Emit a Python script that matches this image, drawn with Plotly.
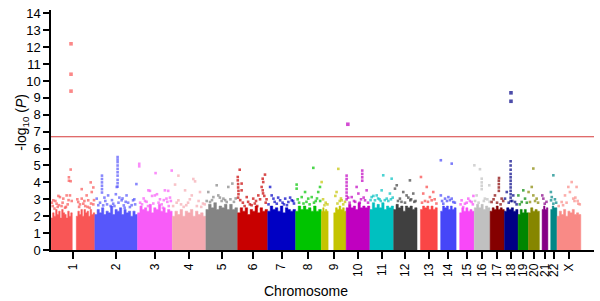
import plotly.graph_objects as go

CHROMS = ["1", "2", "3", "4", "5", "6", "7", "8", "9", "10", "11", "12",
          "13", "14", "15", "16", "17", "18", "19", "20", "21", "22", "X"]
CHROM_LEN = [249.25, 243.2, 198.0, 191.15, 180.9, 171.1, 159.1, 146.4, 141.2,
             135.5, 135.0, 133.85, 115.2, 107.35, 102.5, 90.35, 81.2, 78.1,
             59.1, 63.0, 48.1, 51.3, 155.3]
COLORS = ["#F95656", "#5757FB", "#F85CF8", "#F5A9B0", "#848484", "#C80000",
          "#0000C4", "#00C400", "#C4C400", "#C000C0", "#00C0C0", "#404040",
          "#FA4646", "#4646F8", "#F848F8", "#C0C0C0", "#850000", "#000085",
          "#008600", "#868600", "#860086", "#008686", "#F98A86"]
THRESHOLD = 6.7
Y_TICKS = list(range(0, 15))

# dense low-significance cloud: (start Mb, end Mb, envelope heights of -log10 P)
CLOUD_1 = [(0.5, 121, [1.9, 2.2, 2.0, 2.4, 2.1, 2.3, 1.9, 2.4, 2.2, 2.1, 1.9, 2.3, 2.0, 2.2]),
           (144, 249, [2.0, 2.3, 2.1, 2.4, 2.0, 2.4, 2.2, 2.3, 2.0, 2.4, 2.1, 2.2])]
CLOUD_2 = [(0.5, 242.5, [2.1, 2.4, 2.2, 2.5, 2.1, 2.3, 2.2, 2.6, 2.1, 2.4, 2.3, 2.5, 2.1, 2.4, 2.2, 2.3, 2.0, 2.3, 2.1])]
CLOUD_3 = [(0.5, 197.5, [2.2, 2.6, 2.4, 2.5, 2.3, 2.7, 2.2, 2.5, 2.4, 2.7, 2.3, 2.5, 2.2, 2.4, 2.3])]
CLOUD_4 = [(0.5, 190.5, [2.0, 2.3, 2.1, 2.4, 2.0, 2.3, 2.2, 2.4, 2.0, 2.3, 2.1, 2.2, 2.0])]
CLOUD_5 = [(0.5, 180.5, [2.4, 2.7, 2.5, 2.8, 2.4, 2.6, 2.5, 2.7, 2.4, 2.7, 2.4, 2.5])]
CLOUD_6 = [(0.5, 170.5, [2.2, 2.5, 2.3, 2.5, 2.1, 2.4, 2.3, 2.6, 2.2, 2.5, 2.3, 2.4])]
CLOUD_7 = [(0.5, 158.5, [2.3, 2.6, 2.4, 2.5, 2.3, 2.6, 2.2, 2.5, 2.4, 2.3, 2.4])]
CLOUD_8 = [(0.5, 146.0, [2.3, 2.6, 2.4, 2.6, 2.4, 2.5, 2.3, 2.6, 2.3, 2.4])]
CLOUD_9 = [(0.5, 39, [2.3, 2.5, 2.3, 2.4, 2.3]),
           (71, 141, [2.2, 2.5, 2.4, 2.6, 2.4, 2.5, 2.3])]
CLOUD_10 = [(0.5, 135, [2.5, 2.7, 2.5, 2.6, 2.4, 2.8, 2.5, 2.6, 2.5, 2.6])]
CLOUD_11 = [(0.5, 134.5, [2.4, 2.8, 2.5, 2.7, 2.5, 2.8, 2.4, 2.6, 2.5, 2.6])]
CLOUD_12 = [(0.5, 133.5, [2.4, 2.7, 2.5, 2.6, 2.3, 2.6, 2.5, 2.6, 2.4, 2.5])]
CLOUD_13 = [(19, 115, [2.4, 2.6, 2.5, 2.6, 2.4, 2.6, 2.4, 2.5])]
CLOUD_14 = [(19, 107, [2.3, 2.6, 2.5, 2.6, 2.4, 2.6, 2.4, 2.5])]
CLOUD_15 = [(20, 102, [2.2, 2.5, 2.3, 2.5, 2.3, 2.4, 2.3])]
CLOUD_16 = [(0.5, 90, [2.5, 2.7, 2.5, 2.7, 2.4, 2.6, 2.5])]
CLOUD_17 = [(0.5, 81, [2.3, 2.5, 2.4, 2.6, 2.4, 2.5, 2.4])]
CLOUD_18 = [(0.5, 78, [2.3, 2.5, 2.4, 2.5, 2.3, 2.4])]
CLOUD_19 = [(0.5, 59, [2.1, 2.4, 2.2, 2.4, 2.2])]
CLOUD_20 = [(0.5, 62.5, [2.2, 2.5, 2.3, 2.4, 2.3])]
CLOUD_21 = [(15, 48, [2.4, 2.6, 2.4, 2.5])]
CLOUD_22 = [(16, 51, [2.4, 2.6, 2.5, 2.5])]
CLOUD_X = [(1, 136, [2.0, 2.3, 2.1, 2.4, 2.0, 2.3, 2.2, 2.4, 2.1, 2.2, 2.1])]

# individual SNPs above the cloud: (position Mb, -log10 P)
HITS_1 = [(114, 12.2), (114, 10.4), (114, 9.4), (112, 4.76), (102, 4.3), (112, 4.07),
          (102, 4.1), (226, 4.0), (175, 3.6), (241, 3.7), (42, 3.2), (13, 2.94),
          (51, 3.13), (70, 3.04), (32, 2.74), (89, 3.23), (108, 3.23), (175, 3.04),
          (203, 3.23), (212, 2.94), (232, 3.43), (155, 2.84), (184, 2.74), (10, 2.6),
          (80, 2.5), (241, 2.7), (20, 2.45), (60, 2.6), (95, 2.7), (118, 2.9),
          (160, 2.55), (195, 2.6), (220, 2.5), (150, 3.0), (5, 2.8), (38, 2.55),
          (25, 2.9), (45, 2.65), (66, 2.8), (85, 2.55), (100, 2.95), (165, 2.7),
          (190, 2.9), (208, 2.55), (228, 2.75), (245, 2.95)]
HITS_2 = [(130, 5.5), (130, 5.35), (130, 5.2), (130, 5.0), (130, 4.8), (130, 4.6),
          (130, 4.4), (130, 4.15), (130, 3.95), (130, 3.75), (41, 4.4), (41, 4.2),
          (41, 4.0), (41, 3.8), (41, 3.6), (41, 3.4), (125, 3.73), (76, 3.23),
          (153, 2.94), (181, 3.23), (218, 2.94), (11, 3.04), (48, 2.64), (105, 2.74),
          (200, 2.54), (165, 2.64), (237, 3.9), (30, 2.8), (60, 2.9), (90, 2.6),
          (140, 3.1), (190, 2.8), (230, 2.7), (120, 3.3), (170, 2.5),
          (20, 2.65), (55, 3.1), (70, 2.7), (98, 2.95), (112, 2.6), (135, 2.8),
          (158, 3.05), (176, 2.85), (210, 2.65), (225, 3.0)]
HITS_3 = [(10, 5.1), (10, 4.95), (103, 4.55), (71, 3.5), (175, 3.5), (195, 4.7),
          (62, 3.53), (99, 3.23), (156, 3.53), (165, 3.04), (43, 2.9), (128, 3.0),
          (26, 2.7), (83, 3.2), (185, 3.1), (60, 2.6), (145, 2.5), (111, 3.3),
          (15, 2.8), (138, 2.7), (178, 2.6), (35, 3.05), (52, 2.85), (90, 2.75),
          (120, 2.8), (150, 2.95), (170, 2.85), (190, 2.9)]
HITS_4 = [(35, 4.4), (120, 4.2), (130, 4.06), (16, 3.87), (73, 3.53), (111, 3.23),
          (158, 3.43), (35, 2.94), (50, 2.7), (90, 2.8), (140, 2.6), (175, 2.75),
          (5, 2.6), (100, 3.0), (65, 2.55), (25, 2.8), (80, 2.65), (150, 2.9),
          (165, 2.55), (185, 2.7)]
HITS_5 = [(62, 3.83), (14, 3.43), (43, 3.13), (71, 3.23), (128, 3.73), (151, 3.93),
          (100, 3.04), (119, 2.84), (24, 2.84), (90, 2.9), (140, 3.0), (5, 2.9),
          (160, 2.85), (35, 2.95), (80, 3.1), (110, 2.95), (170, 3.05)]
HITS_6 = [(12, 4.75), (1, 4.32), (1, 4.12), (3, 3.9), (3, 3.7), (5, 3.5), (5, 3.3),
          (3, 3.1), (23, 3.93), (23, 3.53), (52, 3.13), (89, 3.04), (118, 3.23),
          (137, 3.73), (143, 4.22), (146, 4.02), (156, 4.46), (143, 3.53), (145, 3.35),
          (30, 2.8), (70, 2.7), (105, 2.9), (128, 3.0), (160, 2.8), (40, 2.6), (152, 3.2),
          (15, 2.95), (60, 2.85), (80, 2.65), (98, 2.75), (112, 2.6), (165, 3.0)]
HITS_7 = [(14, 3.73), (33, 3.04), (71, 2.94), (100, 3.04), (118, 2.84), (52, 2.74),
          (23, 3.23), (137, 2.94), (5, 2.7), (85, 2.8), (150, 2.75), (60, 3.1), (110, 2.65),
          (40, 2.85), (93, 2.7), (128, 3.1), (145, 2.9)]
HITS_8 = [(101, 4.86), (6, 3.87), (6, 3.63), (54, 3.43), (92, 3.13), (129, 3.43),
          (139, 3.73), (35, 3.13), (72, 3.04), (20, 2.8), (115, 2.9), (80, 2.7),
          (45, 2.75), (140, 2.9), (12, 3.0), (62, 2.85), (105, 2.8), (122, 3.05)]
HITS_9 = [(97, 4.8), (2, 4.02), (87, 3.43), (116, 2.94), (10, 3.0), (25, 2.8),
          (80, 3.2), (105, 2.9), (125, 2.7), (135, 2.85), (35, 2.7), (18, 2.65),
          (92, 2.75), (112, 3.05)]
HITS_10 = [(10, 7.44), (3, 4.4), (3, 4.2), (3, 4.0), (3, 3.8), (3, 3.6), (3, 3.4),
           (3, 3.2), (3, 3.0), (92, 4.7), (92, 4.5), (92, 4.3), (92, 4.1), (117, 3.53),
           (60, 3.73), (70, 3.34), (32, 3.13), (108, 2.94), (20, 2.8), (45, 2.9),
           (85, 3.0), (125, 2.8), (12, 3.1), (52, 2.85), (78, 2.8), (100, 3.1)]
HITS_11 = [(76, 4.42), (124, 4.22), (67, 3.53), (10, 3.13), (39, 3.23), (96, 3.04),
           (114, 3.34), (29, 2.94), (55, 3.0), (85, 2.95), (130, 3.1), (20, 3.2), (105, 2.9),
           (4, 2.95), (47, 3.05), (62, 2.9), (120, 3.0)]
HITS_12 = [(93, 4.12), (18, 3.83), (8, 3.63), (55, 3.43), (74, 3.23), (112, 3.34),
           (36, 3.04), (95, 2.94), (125, 2.9), (65, 2.8), (25, 2.9), (100, 3.0),
           (45, 2.85), (84, 3.1), (118, 2.85)]
HITS_13 = [(22, 4.32), (55, 3.73), (35, 3.34), (73, 3.13), (92, 3.43), (83, 2.94),
           (45, 2.9), (100, 3.0), (28, 2.8), (110, 2.75), (62, 2.85)]
HITS_14 = [(20, 5.31), (82, 5.11), (20, 3.23), (44, 3.04), (63, 3.13), (82, 3.04),
           (91, 2.84), (34, 2.74), (55, 2.9), (100, 2.8), (72, 2.95), (27, 2.9)]
HITS_15 = [(31, 2.94), (50, 2.74), (69, 3.04), (88, 2.84), (40, 2.54), (25, 2.7),
           (60, 2.8), (78, 2.9), (95, 2.7), (98, 3.2)]
HITS_16 = [(1, 5.01), (33, 4.78), (43, 4.22), (43, 4.0), (43, 3.8), (43, 3.6),
           (14, 3.23), (61, 3.04), (86, 3.83), (5, 2.9), (25, 2.8), (55, 2.9),
           (75, 3.0), (88, 2.85)]
HITS_17 = [(51, 4.26), (50, 4.1), (50, 3.9), (50, 3.7), (50, 3.5), (28, 3.23),
           (66, 3.04), (9, 2.84), (40, 2.8), (75, 2.9), (20, 3.0), (60, 2.7)]
HITS_18 = [(38, 9.3), (38, 8.8), (36, 5.25), (36, 5.0), (36, 4.75), (36, 4.5),
           (36, 4.3), (36, 4.1), (36, 3.9), (36, 3.7), (36, 3.5), (36, 3.3), (36, 3.1),
           (36, 2.9), (4, 3.04), (51, 3.23), (14, 3.43), (61, 2.84), (25, 2.8),
           (45, 2.9), (70, 2.7)]
HITS_19 = [(2, 3.23), (21, 2.84), (40, 3.04), (30, 3.53), (10, 2.7), (50, 2.8)]
HITS_20 = [(28, 4.82), (19, 3.73), (1, 3.43), (28, 3.23), (47, 3.04), (9, 2.84),
           (38, 2.9), (55, 2.8)]
HITS_21 = [(16, 3.23), (22, 3.04), (30, 2.74), (40, 2.85)]
HITS_22 = [(31, 4.42), (17, 3.43), (22, 3.13), (18, 2.94), (31, 2.74), (40, 3.0), (47, 2.8)]
HITS_X = [(84, 4.02), (65, 3.73), (112, 3.73), (46, 3.23), (93, 3.04), (122, 2.74),
          (27, 2.84), (74, 3.43), (10, 2.6), (100, 2.9), (130, 2.7), (55, 2.8),
          (35, 2.65), (105, 3.1), (118, 2.9)]

CLOUDS = [CLOUD_1, CLOUD_2, CLOUD_3, CLOUD_4, CLOUD_5, CLOUD_6, CLOUD_7, CLOUD_8,
          CLOUD_9, CLOUD_10, CLOUD_11, CLOUD_12, CLOUD_13, CLOUD_14, CLOUD_15,
          CLOUD_16, CLOUD_17, CLOUD_18, CLOUD_19, CLOUD_20, CLOUD_21, CLOUD_22, CLOUD_X]
HITS = [HITS_1, HITS_2, HITS_3, HITS_4, HITS_5, HITS_6, HITS_7, HITS_8, HITS_9,
        HITS_10, HITS_11, HITS_12, HITS_13, HITS_14, HITS_15, HITS_16, HITS_17,
        HITS_18, HITS_19, HITS_20, HITS_21, HITS_22, HITS_X]

FONT = "Liberation Sans, Arial, Helvetica, sans-serif"

offsets = []
acc = 0.0
for L in CHROM_LEN:
    offsets.append(acc)
    acc += L

fig = go.Figure()
tickvals = []
for i, c in enumerate(CHROMS):
    off = offsets[i]
    col = COLORS[i]
    segs = CLOUDS[i]
    lo = min(s for s, _, _ in segs)
    hi = max(e for _, e, _ in segs)
    tickvals.append(off + (lo + hi) / 2)
    for s, e, h in segs:
        n = len(h)
        xs = [off + s] + [off + s + (e - s) * k / n for k in range(n)] + [off + e, off + e]
        ys = [0] + list(h) + [h[-1], 0]
        fig.add_trace(go.Scatter(x=xs, y=ys, mode="lines", fill="toself",
                                 fillcolor=col, line=dict(width=0.5, color=col, shape="hv"),
                                 hoverinfo="skip", showlegend=False))
    pts = HITS[i]
    fig.add_trace(go.Scatter(
        x=[off + p for p, _ in pts], y=[v for _, v in pts], mode="markers",
        marker=dict(symbol="square", size=[3.6 if v > 6 else 2.6 for _, v in pts],
                    color=col, line=dict(width=0)),
        name="chr" + c, showlegend=False))

fig.add_shape(type="line", xref="paper", x0=0, x1=1, yref="y",
              y0=THRESHOLD, y1=THRESHOLD, line=dict(color="#D63A3A", width=1.2))

fig.update_layout(
    width=600, height=301,
    margin=dict(l=51, r=6, t=10, b=51),
    paper_bgcolor="white", plot_bgcolor="white",
    font=dict(family=FONT, color="black"),
    xaxis=dict(range=[0, 3092], tickmode="array", tickvals=tickvals, ticktext=CHROMS,
               tickangle=-90, ticks="outside", ticklen=7, tickwidth=1.5,
               tickcolor="black", showline=True, linecolor="black", linewidth=1.5,
               showgrid=False, zeroline=False, tickfont=dict(size=12, family=FONT),
               fixedrange=True, automargin=False),
    yaxis=dict(range=[0, 14.2], tickmode="array", tickvals=Y_TICKS,
               ticks="outside", ticklen=6, tickwidth=1.5, tickcolor="black",
               showline=True, linecolor="black", linewidth=1.5, showgrid=False,
               zeroline=False, tickfont=dict(size=13, family=FONT), fixedrange=True,
               automargin=False),
    annotations=[
        dict(text="Chromosome", xref="paper", yref="paper", x=0.47, y=0,
             yshift=-41, xanchor="center", yanchor="middle", showarrow=False,
             font=dict(size=14, family=FONT)),
        dict(text="-log<sub>10</sub> (<i>P</i>)", xref="paper", yref="paper", x=0,
             xshift=-29, y=0.53, xanchor="center", yanchor="middle", textangle=-90,
             showarrow=False, font=dict(size=14, family=FONT)),
    ],
)

# remove the browser's default 8 px body margin so the 600x301 figure fills the window
fig.write_html("out.html", config={"displayModeBar": False},
               post_script="document.body.style.margin='0';")
